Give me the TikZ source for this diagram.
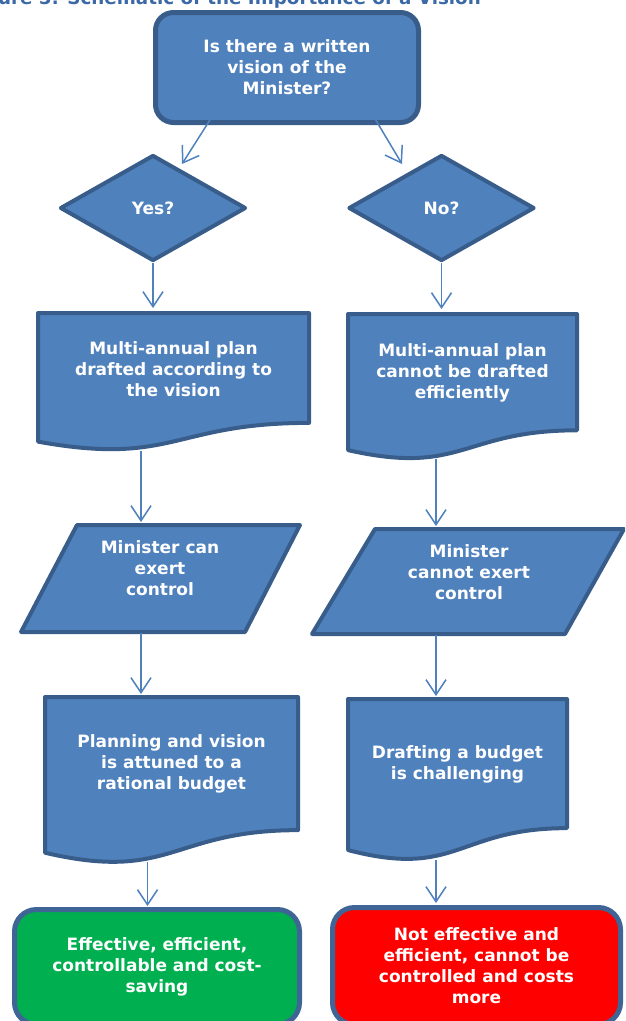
\documentclass[tikz,border=0pt]{standalone}
\usepackage{fontspec}
\setmainfont{DejaVu Sans}
\usetikzlibrary{arrows.meta,shapes.geometric}

\definecolor{boxfill}{HTML}{4F81BD}
\definecolor{boxline}{HTML}{385D8A}
\definecolor{endline}{HTML}{3F6496}
\definecolor{goodfill}{HTML}{00B050}
\definecolor{badfill}{HTML}{FF0000}
\definecolor{titleblue}{HTML}{3B68A6}

% flowchart "document" outline: left x, top y, right x, outer height
\newcommand\docoutline[4]{%
  \draw[shapebox]
    ({#1+2},{#2+2}) -- ({#3-2},{#2+2}) -- ({#3-2},{#2+0.802*#4-2})
    .. controls ({(#1+#3)/2},{#2+0.802*#4-2}) and ({(#1+#3)/2},{#2+1.107*#4-2})
    .. ({#1+2},{#2+0.934*#4-2}) -- cycle;}

\tikzset{
  shapebox/.style={fill=boxfill, draw=boxline, line width=4pt, line join=round},
  label text/.style={text=white, font=\fontsize{17}{21}\selectfont\bfseries, align=center, inner sep=0pt},
  flowarrow/.style={draw=boxfill, line width=1.5pt, -{Straight Barb[length=15pt,width=20pt,line width=1.5pt]}},
  endbox/.style={rectangle, rounded corners=22pt, draw=endline, line width=5pt, label text},
}

\begin{document}
\begin{tikzpicture}[x=1pt, y=-1pt]
\useasboundingbox (0,0) rectangle (625,1021);
\clip (0,0) rectangle (625,1021);

% caption, mostly above the page edge
\node[anchor=base east, text=titleblue, font=\fontsize{18.3}{22}\selectfont\bfseries, inner sep=0pt]
  (title) at (481,4) {Figure 5: Schematic of the Importance of a Vision};

% question box
\node[shapebox, rectangle, rounded corners=18pt, minimum width=263pt, minimum height=110pt,
      line width=5pt, label text] (q) at (287,67.5) {Is there a written\\vision of the\\Minister?};

% decisions
\node[shapebox, diamond, minimum width=186pt, minimum height=106pt, inner sep=0pt, label text]
  (yes) at (153,208) {Yes?};
\node[shapebox, diamond, minimum width=186pt, minimum height=106pt, inner sep=0pt, label text]
  (no) at (441.5,208) {No?};

% plans
\docoutline{36}{311}{311}{142}
\node[label text] (planyes) at (173.5,369) {Multi-annual plan\\drafted according to\\the vision};
\docoutline{346}{312}{579}{150}
\node[label text] (planno) at (462.5,373) {Multi-annual plan\\cannot be drafted\\efficiently};

% control
\draw[shapebox] (77,525) -- (300,525) -- (245,632) -- (21,632) -- cycle;
\node[label text] (ctrlyes) at (160,568) {Minister can\\exert\\control};
\draw[shapebox] (375,529) -- (624,529) -- (565,634) -- (312,634) -- cycle;
\node[label text] (ctrlno) at (469,572) {Minister\\cannot exert\\control};

% budgets
\docoutline{43}{695}{300}{171}
\node[label text] (budyes) at (171.5,764) {Planning and vision\\is attuned to a\\rational budget};
\docoutline{346}{697}{569}{166}
\node[label text] (budno) at (457.5,764.5) {Drafting a budget\\is challenging};

% outcomes
\node[endbox, fill=goodfill, minimum width=285pt, minimum height=115pt] (good) at (157,967)
  {Effective, efficient,\\controllable and cost-\\saving};
\node[endbox, fill=badfill, minimum width=288pt, minimum height=117pt] (bad) at (476.5,966)
  {Not effective and\\efficient, cannot be\\controlled and costs\\more};

% connector end points on the outlines
\coordinate (qL) at (215,112);
\coordinate (qR) at (371,112);
\coordinate (yesIn) at (182,164);
\coordinate (noIn) at (402,164);
\coordinate (planyesTop) at (153,308);
\coordinate (plannoTop) at (441.5,309);
\coordinate (planyesBot) at (141,451);
\coordinate (plannoBot) at (436,459);
\coordinate (ctrlyesTop) at (141,522);
\coordinate (ctrlnoTop) at (436,526);
\coordinate (ctrlyesBot) at (141,633);
\coordinate (ctrlnoBot) at (436,635);
\coordinate (budyesTop) at (141,694);
\coordinate (budnoTop) at (436,696);
\coordinate (budyesBot) at (147.5,862);
\coordinate (budnoBot) at (436,860);
\coordinate (goodTop) at (147.5,906);
\coordinate (badTop) at (436,903);

% connectors
\draw[flowarrow] (qL) -- (yesIn);
\draw[flowarrow] (qR) -- (noIn);
\draw[flowarrow] (yes.south) -- (planyesTop);
\draw[flowarrow] (no.south) -- (plannoTop);
\draw[flowarrow] (planyesBot) -- (ctrlyesTop);
\draw[flowarrow] (plannoBot) -- (ctrlnoTop);
\draw[flowarrow] (ctrlyesBot) -- (budyesTop);
\draw[flowarrow] (ctrlnoBot) -- (budnoTop);
\draw[flowarrow] (budyesBot) -- (goodTop);
\draw[flowarrow] (budnoBot) -- (badTop);
\end{tikzpicture}
\end{document}
